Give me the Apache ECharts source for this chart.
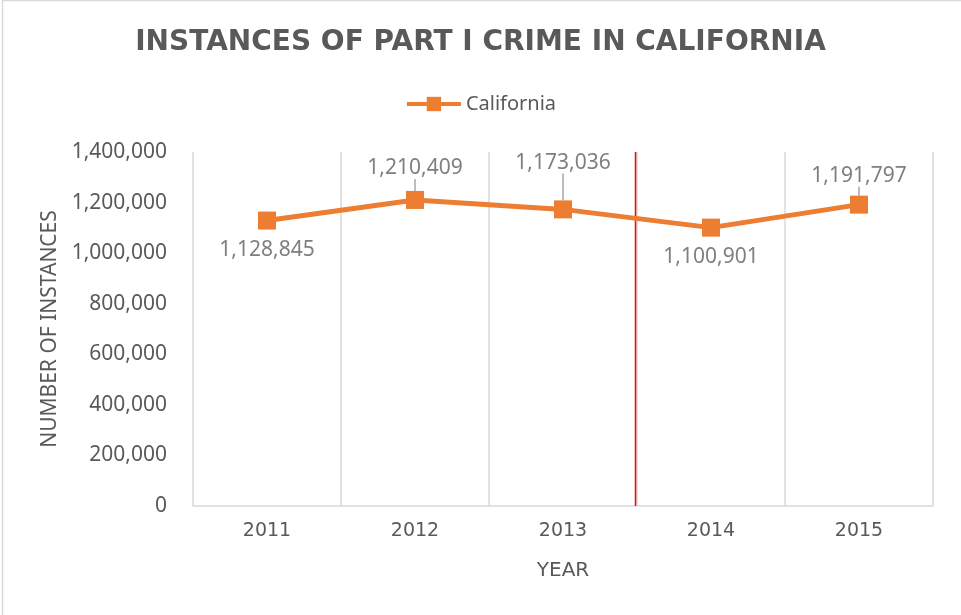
<!DOCTYPE html>
<html>
<head>
<meta charset="utf-8">
<script src="https://cdn.jsdelivr.net/npm/echarts@6/dist/echarts.min.js"></script>
<style>
html,body{margin:0;padding:0;background:#fff;}
#chart{width:961px;height:615px;}
</style>
</head>
<body>
<div id="chart"></div>
<script>
// ---- data ----
const years = ['2011', '2012', '2013', '2014', '2015'];
const instances = [1128845, 1210409, 1173036, 1100901, 1191797];
const labelSides = ['bottom', 'top', 'top', 'bottom', 'top'];
const labelShift = [0, -7, -22, 0, -4];
const yTicks = [0, 200000, 400000, 600000, 800000, 1000000, 1200000, 1400000];
const dividerAt = 2.49; // red vertical divider between 2013 and 2014 (category index)

const fmt = v => v.toLocaleString('en-US');
const FONT = 'Noto Sans';

const chart = echarts.init(document.getElementById('chart'));
chart.setOption({
  backgroundColor: '#fff',
  animation: false,
  textStyle: { fontFamily: FONT },
  graphic: [{
    type: 'rect', shape: { x: 2.5, y: 0.5, width: 980, height: 640 },
    style: { fill: 'none', stroke: '#d9d9d9', lineWidth: 1.5 }, silent: true
  }],
  title: {
    text: 'INSTANCES OF PART I CRIME IN CALIFORNIA',
    left: 'center', top: 24,
    textStyle: { fontFamily: 'DejaVu Sans', fontWeight: 'bold', fontSize: 28, color: '#595959' }
  },
  legend: {
    data: ['California'], top: 89, left: 'center',
    itemWidth: 54, itemHeight: 18, itemGap: 5,
    lineStyle: { width: 4 },
    textStyle: { fontFamily: FONT, fontSize: 20, color: '#595959' }
  },
  grid: { left: 193, right: 28, top: 152, bottom: 109, containLabel: false },
  xAxis: [{
    type: 'category', data: years, boundaryGap: true,
    name: 'YEAR', nameLocation: 'middle', nameGap: 55,
    nameTextStyle: { fontFamily: 'DejaVu Sans', fontSize: 20, color: '#595959' },
    axisLine: { lineStyle: { color: '#d9d9d9', width: 1.5 } },
    axisTick: { show: false },
    axisLabel: { fontFamily: 'DejaVu Sans', fontSize: 19, color: '#595959', margin: 16 },
    splitLine: { show: true, lineStyle: { color: '#d9d9d9', width: 1.5 } }
  }, {
    type: 'value', min: -0.5, max: 4.5, show: false
  }],
  yAxis: {
    type: 'value', min: yTicks[0], max: yTicks[yTicks.length - 1], interval: 200000,
    name: 'NUMBER OF INSTANCES', nameLocation: 'middle', nameGap: 131, nameRotate: 90,
    nameTextStyle: { fontFamily: FONT, fontSize: 21, color: '#595959' },
    axisLine: { show: false }, axisTick: { show: false },
    splitLine: { show: false },
    axisLabel: { fontFamily: FONT, fontSize: 21, color: '#595959', margin: 26, formatter: fmt }
  },
  series: [{
    name: 'California', type: 'line', data: instances.map((v, i) => ({
      value: v,
      label: { position: labelSides[i], distance: labelSides[i] === 'bottom' ? 10 : 5 },
      labelLine: { show: labelSides[i] === 'top' }
    })),
    symbol: 'rect', symbolSize: 18,
    lineStyle: { color: '#ED7D31', width: 5 },
    itemStyle: { color: '#ED7D31' },
    label: { show: true, fontFamily: FONT, fontSize: 21, color: '#7f7f7f', formatter: p => fmt(p.value) },
    labelLayout: p => ({ dy: labelShift[p.dataIndex] }),
    labelLine: { show: true, lineStyle: { color: '#a6a6a6', width: 1.5 } },
    z: 5
  }, {
    name: 'divider', type: 'line', xAxisIndex: 1, silent: true,
    data: [[dividerAt, yTicks[0]], [dividerAt, yTicks[yTicks.length - 1]]],
    symbol: 'none', lineStyle: { color: '#ff0000', width: 1.5 }, z: 3
  }]
});
</script>
</body>
</html>
